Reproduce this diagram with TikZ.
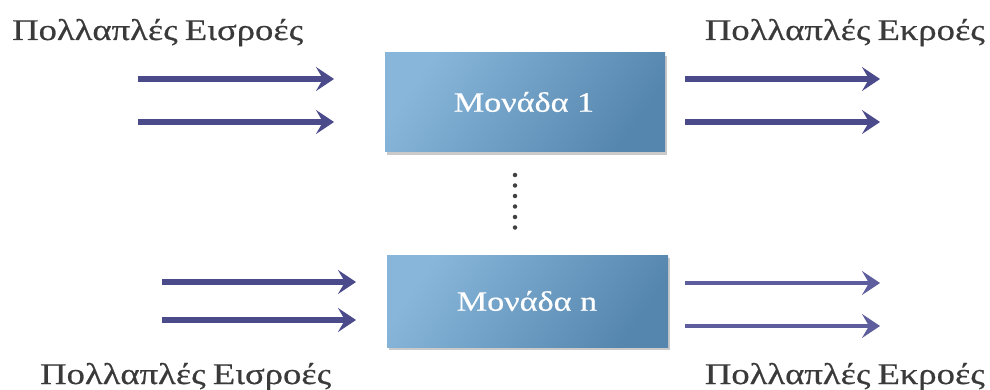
\documentclass[tikz,border=0pt]{standalone}
\usepackage{fontspec}
\setmainfont{Liberation Serif}
\newfontfamily\widegreek[FakeStretch=1.22, FakeBold=0.6]{Liberation Serif}
\usetikzlibrary{arrows.meta,shadows}
\definecolor{arrowblue}{HTML}{4B4B8C}
\definecolor{arrowlite}{HTML}{5E5E9E}
\definecolor{boxlight}{HTML}{88B6DB}
\definecolor{boxdark}{HTML}{5586AD}
\definecolor{labelgray}{HTML}{3A3A3A}
\tikzset{
  unitbox/.style={inner sep=0pt, shading=axis, top color=boxlight, bottom color=boxdark,
    shading angle=55, draw=none,
    drop shadow={shadow xshift=1.5pt, shadow yshift=-3pt, opacity=0.35, fill=black!60}},
  unitlabel/.style={text=white, font=\widegreek\fontsize{28}{28}\selectfont},
  flow/.style={draw=arrowblue, line width=6pt,
    -{Stealth[length=18pt, width=24pt, inset=7pt]}},
  flowthin/.style={draw=arrowlite, line width=4.5pt,
    -{Stealth[length=18pt, width=24pt, inset=7pt]}},
  grouplabel/.style={text=labelgray, inner sep=0pt, font=\widegreek\fontsize{30}{30}\selectfont},
}
\begin{document}
\begin{tikzpicture}[x=1pt, y=-1pt]
\useasboundingbox (0,0) rectangle (990,390);

% the two units
\path[unitbox] (385,53) rectangle (665,152);
\node[unitlabel] (u1) at (524,102) {Μονάδα 1};
\path[unitbox] (387,255) rectangle (668,347);
\node[unitlabel] (un) at (527,301) {Μονάδα n};

% ellipsis between the units
\coordinate (dtop) at (515,175);
\coordinate (dbot) at (515,228);
\draw[line width=4.5pt, line cap=round, dash pattern=on 0pt off 10.5pt, black!75] (dtop) -- (dbot);

% arrow end points
\coordinate (i1as) at (138,79);  \coordinate (i1ae) at (334,79);
\coordinate (i1bs) at (138,122); \coordinate (i1be) at (334,122);
\coordinate (o1as) at (685,79);  \coordinate (o1ae) at (880,79);
\coordinate (o1bs) at (685,122); \coordinate (o1be) at (880,122);
\coordinate (inas) at (162,282); \coordinate (inae) at (356,282);
\coordinate (inbs) at (162,320); \coordinate (inbe) at (356,320);
\coordinate (onas) at (685,283); \coordinate (onae) at (880,283);
\coordinate (onbs) at (685,326); \coordinate (onbe) at (880,326);

\draw[flow] (i1as) -- (i1ae);
\draw[flow] (i1bs) -- (i1be);
\draw[flow] (o1as) -- (o1ae);
\draw[flow] (o1bs) -- (o1be);
\draw[flow] (inas) -- (inae);
\draw[flow] (inbs) -- (inbe);
\draw[flowthin] (onas) -- (onae);
\draw[flowthin] (onbs) -- (onbe);

% group labels
\node[grouplabel, anchor=base west] (inTop) at (12,40) {Πολλαπλές\hspace{-2pt} Εισροές};
\node[grouplabel, anchor=base east] (outTop) at (985,40) {Πολλαπλές\hspace{-2pt} Εκροές};
\node[grouplabel, anchor=base west] (inBot) at (40,384) {Πολλαπλές\hspace{-2pt} Εισροές};
\node[grouplabel, anchor=base east] (outBot) at (985,384) {Πολλαπλές\hspace{-2pt} Εκροές};
\end{tikzpicture}
\end{document}
